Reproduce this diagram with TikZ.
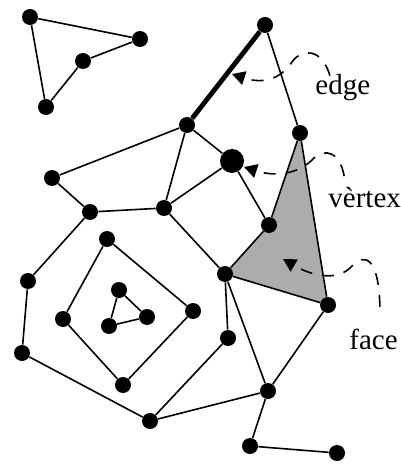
\documentclass[tikz,border=0pt]{standalone}
\usepackage{fontspec}
\setmainfont{Liberation Serif}
\usetikzlibrary{arrows.meta,backgrounds}

\begin{document}
\begin{tikzpicture}[x=0.5pt,y=-0.5pt,>={Triangle[length=6.5pt,width=7pt]}]
  \tikzstyle{vtx}=[circle,fill=black,inner sep=0pt,minimum size=8pt]
  \tikzstyle{bigvtx}=[vtx,minimum size=12pt]
  \tikzstyle{lnk}=[line width=0.8pt]
  \tikzstyle{lbl}=[anchor=base west,inner sep=1pt,font=\fontsize{14.5}{16}\selectfont]
  \tikzstyle{callout}=[line width=0.8pt,dash pattern=on 6pt off 5pt,dash phase=7pt,<-]
  \useasboundingbox (0,0) rectangle (400,464);
  % componente solta
  \node[vtx] (a1) at (30,17) {};
  \node[vtx] (a2) at (140,39) {};
  \node[vtx] (a3) at (83,61) {};
  \node[vtx] (a4) at (46,107) {};
  % componente principal
  \node[vtx] (top) at (265,25) {};
  \node[vtx] (b) at (187,125) {};
  \node[vtx] (r) at (300,133) {};
  \node[bigvtx] (v) at (232,161) {};
  \node[vtx] (c) at (52,178) {};
  \node[vtx] (e) at (164,208) {};
  \node[vtx] (d) at (90,212) {};
  \node[vtx] (g) at (269,225) {};
  \node[vtx] (f) at (225,274) {};
  \node[vtx] (h) at (328,305) {};
  \node[vtx] (i) at (228,338) {};
  \node[vtx] (j) at (268,391) {};
  \node[vtx] (k) at (250,446) {};
  \node[vtx] (l) at (337,453) {};
  \node[vtx] (p1) at (107,239) {};
  \node[vtx] (p2) at (28,281) {};
  \node[vtx] (p3) at (63,319) {};
  \node[vtx] (p4) at (119,290) {};
  \node[vtx] (p5) at (147,317) {};
  \node[vtx] (p6) at (109,326) {};
  \node[vtx] (p7) at (193,311) {};
  \node[vtx] (p8) at (22,353) {};
  \node[vtx] (p9) at (123,385) {};
  \node[vtx] (p10) at (150,421) {};
  % face
  \begin{scope}[on background layer]
    \fill[gray!65] (r.center) -- (g.center) -- (f.center) -- (h.center) -- cycle;
  \end{scope}
  % arestas
  \draw[lnk] (a1) -- (a2) -- (a3) -- (a4) -- (a1);
  \draw[line width=2.4pt] (b) -- (top);
  \draw[lnk] (top) -- (r);
  \draw[lnk] (c) -- (b) -- (e) -- (d) -- (c);
  \draw[lnk] (b) -- (v) -- (g);
  \draw[lnk] (v) -- (e) -- (f);
  \draw[lnk] (r) -- (g) -- (f) -- (h) -- (r);
  \draw[lnk] (f) -- (i) -- (p10);
  \draw[lnk] (f) -- (j) -- (h);
  \draw[lnk] (p10) -- (j) -- (k) -- (l);
  \draw[lnk] (d) -- (p2) -- (p8) -- (p10);
  \draw[lnk] (p1) -- (p7) -- (p9) -- (p3) -- (p1);
  \draw[lnk] (p4) -- (p5) -- (p6) -- (p4);
  % rotulos
  \node[lbl] (lbledge) at (313,95) {edge};
  \node[lbl] (lblvertex) at (326,207) {vèrtex};
  \node[lbl] (lblface) at (347,349) {face};
  \coordinate (tipedge) at (232,74);
  \coordinate (endedge) at (330,76);
  \coordinate (tipvertex) at (244,167);
  \coordinate (endvertex) at (345,182);
  \coordinate (tipface) at (283,259);
  \coordinate (endface) at (380,314);
  \draw[callout] (tipedge) .. controls (262,84) and (280,80) .. (292,62) .. controls (302,48) and (322,48) .. (endedge);
  \draw[callout] (tipvertex) .. controls (275,177) and (298,174) .. (312,160) .. controls (325,146) and (342,152) .. (endvertex);
  \draw[callout] (tipface) .. controls (312,276) and (338,282) .. (352,266) .. controls (364,253) and (380,255) .. (endface);
\end{tikzpicture}
\end{document}
